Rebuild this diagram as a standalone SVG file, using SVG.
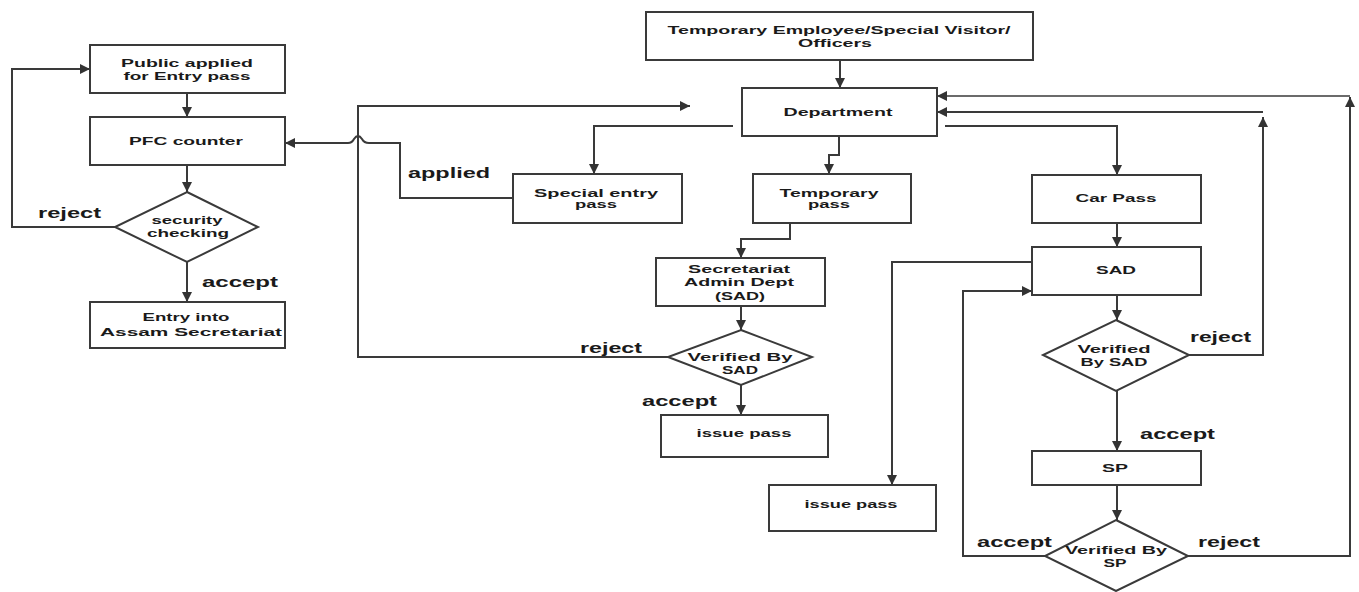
<svg xmlns="http://www.w3.org/2000/svg" width="1359" height="592" viewBox="0 0 1359 592">
<defs>
<marker id="ah" viewBox="0 0 10 10" refX="10" refY="5" markerWidth="10" markerHeight="10" markerUnits="userSpaceOnUse" orient="auto">
<path d="M0,0 L10,5 L0,10 Z" fill="#333"/>
</marker>
</defs>
<style>
.box{fill:#fff;stroke:#3a3a3a;stroke-width:2}
.t{font-family:"Liberation Sans",Arial,sans-serif;font-weight:bold;font-size:11px;fill:#1a1a1a;text-anchor:middle}
.l{font-family:"Liberation Sans",Arial,sans-serif;font-weight:bold;font-size:14px;fill:#1a1a1a}
.c{fill:none;stroke:#3a3a3a;stroke-width:2}
.a{marker-end:url(#ah)}
</style>
<rect width="1359" height="592" fill="#fff"/>
<g id="connectors">
<path class="c a" d="M187,93 V117"/>
<path class="c a" d="M187,165 V192"/>
<path class="c a" d="M187,262 V302"/>
<path class="c a" d="M115,227 H12 V69 H90"/>
<path class="c a" d="M840,60 V88"/>
<path class="c a" d="M733,126 H594 V174"/>
<path class="c a" d="M839,136 V155 H829 V174"/>
<path class="c a" d="M945,126 H1117 V175"/>
<path class="c a" d="M1117,223 V247"/>
<path class="c a" d="M1117,295 V320"/>
<path class="c a" d="M1117,391 V451"/>
<path class="c a" d="M1117,485 V520"/>
<path class="c a" d="M513,198 H400 V143 H369 Q364,143 362,139 Q358,133 354,139 Q352,143 348,143 H285"/>
<path class="c a" d="M790,223 V239 H741 V258"/>
<path class="c a" d="M741,306 V330"/>
<path class="c a" d="M741,385 V415"/>
<path class="c a" d="M668,357 H358 V106 H690"/>
<path class="c a" d="M1032,262 H892 V485"/>
<path class="c a" d="M1045,556 H963 V291 H1032"/>
<path class="c a" d="M1189,355 H1263 V117"/>
<path class="c a" d="M1263,112 H937"/>
<path class="c a" d="M1188,556 H1350 V97"/>
<path class="c a" d="M1350,96 H937" style="stroke-width:1.5"/>
</g>
<g id="n-public"><rect class="box" x="90" y="45" width="195" height="48"/><text class="t" x="187" y="67" textLength="132" lengthAdjust="spacingAndGlyphs">Public applied</text><text class="t" x="187" y="80" textLength="127" lengthAdjust="spacingAndGlyphs">for Entry pass</text></g>
<g id="n-pfc"><rect class="box" x="90" y="117" width="195" height="48"/><text class="t" x="186" y="145" textLength="114" lengthAdjust="spacingAndGlyphs">PFC counter</text></g>
<g id="n-security"><polygon class="box" points="187,192 258,227 187,262 115,227"/><text class="t" x="187" y="224" textLength="71" lengthAdjust="spacingAndGlyphs">security</text><text class="t" x="188" y="237" textLength="82" lengthAdjust="spacingAndGlyphs">checking</text></g>
<g id="n-entry"><rect class="box" x="90" y="302" width="195" height="46"/><text class="t" x="186" y="321" textLength="87" lengthAdjust="spacingAndGlyphs">Entry into</text><text class="t" x="191" y="336" textLength="182" lengthAdjust="spacingAndGlyphs">Assam Secretariat</text></g>
<g id="n-top"><rect class="box" x="646" y="12" width="387" height="48"/><text class="t" x="839" y="34" textLength="343" lengthAdjust="spacingAndGlyphs">Temporary Employee/Special Visitor/</text><text class="t" x="835" y="47" textLength="74" lengthAdjust="spacingAndGlyphs">Officers</text></g>
<g id="n-dept"><rect class="box" x="742" y="88" width="195" height="48"/><text class="t" x="838" y="116" textLength="109" lengthAdjust="spacingAndGlyphs">Department</text></g>
<g id="n-special"><rect class="box" x="513" y="174" width="169" height="49"/><text class="t" x="596" y="197" textLength="124" lengthAdjust="spacingAndGlyphs">Special entry</text><text class="t" x="596" y="208" textLength="42" lengthAdjust="spacingAndGlyphs">pass</text></g>
<g id="n-temp"><rect class="box" x="753" y="174" width="158" height="49"/><text class="t" x="829" y="197" textLength="99" lengthAdjust="spacingAndGlyphs">Temporary</text><text class="t" x="829" y="208" textLength="42" lengthAdjust="spacingAndGlyphs">pass</text></g>
<g id="n-carpass"><rect class="box" x="1032" y="175" width="169" height="48"/><text class="t" x="1116" y="202" textLength="81" lengthAdjust="spacingAndGlyphs">Car Pass</text></g>
<g id="n-sad"><rect class="box" x="1032" y="247" width="169" height="48"/><text class="t" x="1116" y="274" textLength="40" lengthAdjust="spacingAndGlyphs">SAD</text></g>
<g id="n-secretariat"><rect class="box" x="656" y="258" width="169" height="48"/><text class="t" x="739" y="273" textLength="102" lengthAdjust="spacingAndGlyphs">Secretariat</text><text class="t" x="739" y="286" textLength="110" lengthAdjust="spacingAndGlyphs">Admin Dept</text><text class="t" x="740" y="300" textLength="50" lengthAdjust="spacingAndGlyphs">(SAD)</text></g>
<g id="n-verif-sad1"><polygon class="box" points="741,330 812,357 741,385 668,357"/><text class="t" x="740" y="361" textLength="105" lengthAdjust="spacingAndGlyphs">Verified By</text><text class="t" x="740" y="374" textLength="36" lengthAdjust="spacingAndGlyphs">SAD</text></g>
<g id="n-issue1"><rect class="box" x="661" y="415" width="167" height="42"/><text class="t" x="744" y="437" textLength="95" lengthAdjust="spacingAndGlyphs">issue pass</text></g>
<g id="n-verif-sad2"><polygon class="box" points="1116,320 1189,355 1116,391 1043,355"/><text class="t" x="1114" y="353" textLength="73" lengthAdjust="spacingAndGlyphs">Verified</text><text class="t" x="1114" y="366" textLength="67" lengthAdjust="spacingAndGlyphs">By SAD</text></g>
<g id="n-sp"><rect class="box" x="1032" y="451" width="169" height="34"/><text class="t" x="1115" y="472" textLength="26" lengthAdjust="spacingAndGlyphs">SP</text></g>
<g id="n-verif-sp"><polygon class="box" points="1116,520 1188,556 1116,591 1045,556"/><text class="t" x="1116" y="554" textLength="102" lengthAdjust="spacingAndGlyphs">Verified By</text><text class="t" x="1115" y="567" textLength="23" lengthAdjust="spacingAndGlyphs">SP</text></g>
<g id="n-issue2"><rect class="box" x="769" y="485" width="167" height="46"/><text class="t" x="851" y="508" textLength="93" lengthAdjust="spacingAndGlyphs">issue pass</text></g>
<g id="labels">
<text class="l" x="38" y="218" textLength="63" lengthAdjust="spacingAndGlyphs">reject</text>
<text class="l" x="202" y="287" textLength="76" lengthAdjust="spacingAndGlyphs">accept</text>
<text class="l" x="408" y="178" textLength="82" lengthAdjust="spacingAndGlyphs">applied</text>
<text class="l" x="580" y="353" textLength="62" lengthAdjust="spacingAndGlyphs">reject</text>
<text class="l" x="642" y="406" textLength="75" lengthAdjust="spacingAndGlyphs">accept</text>
<text class="l" x="1190" y="342" textLength="61" lengthAdjust="spacingAndGlyphs">reject</text>
<text class="l" x="1140" y="439" textLength="75" lengthAdjust="spacingAndGlyphs">accept</text>
<text class="l" x="977" y="547" textLength="75" lengthAdjust="spacingAndGlyphs">accept</text>
<text class="l" x="1198" y="547" textLength="62" lengthAdjust="spacingAndGlyphs">reject</text>
</g>
</svg>
